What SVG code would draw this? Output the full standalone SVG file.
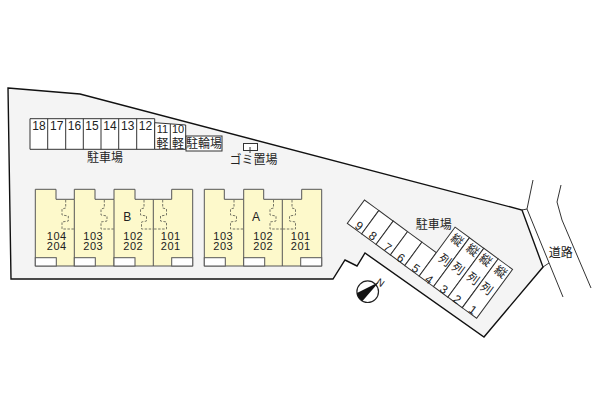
<svg xmlns="http://www.w3.org/2000/svg" width="600" height="400" viewBox="0 0 600 400">
<style>
text{font-family:"Liberation Sans","Noto Sans CJK JP",sans-serif;font-size:12px;fill:#222;text-anchor:middle}
.u{font-size:11px;letter-spacing:.5px}
.p{fill:#fff;stroke:#333;stroke-width:1}
.b{fill:#fdf9cb;stroke:#555;stroke-width:1}
.w{fill:#fff;stroke:#555;stroke-width:1}
.d{fill:none;stroke:#776;stroke-width:1;stroke-dasharray:2.5 1.5}
.r{fill:none;stroke:#333;stroke-width:1}
</style>
<rect width="600" height="400" fill="#fff"/>
<g id="road">
<path class="r" d="M533 180L527 209L563 297M561 185L557 202L562 220L591 288M522 210L527 209M543 267L549 263"/>
</g>
<path id="lot" d="M8 88L80 94L522 210L543 267L484 337L365 253L357 266L345 260L333 279L11 279Z" fill="#f4f4f4" stroke="#111" stroke-width="1.4"/>
<g id="parking-north">
<path class="p" d="M30 118.700H154.700V149.300H30Z"/>
<path class="p" d="M154.700 122.700L185.700 125V149.300H154.700Z"/>
<path class="r" d="M47.700 118.700V149.300M65.700 118.700V149.300M83.300 118.700V149.300M101 118.700V149.300M118.700 118.700V149.300M136.700 118.700V149.300M170.300 124V149.300"/>
<text x="39" y="130">18</text><text x="56.700" y="130">17</text><text x="74.500" y="130">16</text><text x="92" y="130">15</text><text x="110" y="130">14</text><text x="127.700" y="130">13</text><text x="145.500" y="130">12</text>
<text x="162.500" y="133" style="font-size:11px">11</text><text x="178" y="133" style="font-size:11px">10</text><text x="162.500" y="147.500">軽</text><text x="178" y="147.500">軽</text>
<text x="105" y="162">駐車場</text>
</g>
<g id="bike"><rect class="p" x="186" y="136" width="36" height="15"/><text x="204" y="148">駐輪場</text></g>
<g id="garbage"><rect class="p" x="243.500" y="143.500" width="14" height="7"/><path class="r" d="M250 147V153"/><text x="253.500" y="164">ゴミ置場</text></g>
<g id="building-b">
<path class="b" d="M35.300 189.300H56V199.300H74.300V189.300H95V199.300H114V189.300H135V199.300H153.300H171.700V189.300H192.700V266H35.300Z"/>
<path class="b" d="M74.300 199.300V266M114 199.300V266M153.300 199.300V266"/>
<rect class="w" x="35.300" y="257.700" width="21" height="8.300"/><rect class="w" x="74.300" y="257.700" width="21" height="8.300"/><rect class="w" x="114" y="257.700" width="21" height="8.300"/><rect class="w" x="171.700" y="257.700" width="21" height="8.300"/>
<path class="d" d="M65.700 200V208L62 209V215L68.300 216V221L62 222V229H74"/>
<path class="d" d="M104.300 200V208L101 209V215L107 216V221L101 222V229H114"/>
<path class="d" d="M144 200V208L140.500 209V215L146.500 216V221L141.500 222V229H153.300"/>
<path class="d" d="M162.700 200V208L166.500 209V215L160.500 216V221L166.500 222V229H153.300"/>
<text x="127.300" y="221">B</text>
<text class="u" x="56.700" y="239.500">104</text><text class="u" x="56.700" y="250">204</text><text class="u" x="93.300" y="239.500">103</text><text class="u" x="93.300" y="250">203</text><text class="u" x="133.300" y="239.500">102</text><text class="u" x="133.300" y="250">202</text><text class="u" x="170.700" y="239.500">101</text><text class="u" x="170.700" y="250">201</text>
</g>
<g id="building-a">
<path class="b" d="M204.300 189.300H224.300V199.300H243.700V189.300H263.700V199.300H282.300H301.700V189.300H321.700V266H204.300Z"/>
<path class="b" d="M243.700 199.300V266M282.300 199.300V266"/>
<rect class="w" x="204.300" y="257.700" width="21" height="8.300"/><rect class="w" x="243.700" y="257.700" width="21" height="8.300"/><rect class="w" x="300.700" y="257.700" width="21" height="8.300"/>
<path class="d" d="M234 200V208L230.500 209V215L236.500 216V221L230.500 222V229H243.700"/>
<path class="d" d="M273.500 200V208L270 209V215L276 216V221L270 222V229H282.300"/>
<path class="d" d="M292 200V208L295.500 209V215L289.500 216V221L295.500 222V229H282.300"/>
<text x="256" y="221">A</text>
<text class="u" x="223.300" y="239.500">103</text><text class="u" x="223.300" y="250">203</text><text class="u" x="263.300" y="239.500">102</text><text class="u" x="263.300" y="250">202</text><text class="u" x="300.700" y="239.500">101</text><text class="u" x="300.700" y="250">201</text>
</g>
<g id="parking-east">
<g transform="translate(347.300 223.300) rotate(36.300)">
<rect class="p" x="0" y="-29" width="17.830" height="29"/><rect class="p" x="17.830" y="-29" width="17.830" height="29"/><rect class="p" x="35.660" y="-29" width="17.830" height="29"/><rect class="p" x="53.490" y="-29" width="17.830" height="29"/><rect class="p" x="71.320" y="-29" width="17.830" height="29"/>
<rect class="p" x="89.150" y="-60.700" width="17.830" height="60.700"/><rect class="p" x="106.980" y="-60.700" width="17.830" height="60.700"/><rect class="p" x="124.810" y="-60.700" width="17.830" height="60.700"/><rect class="p" x="142.640" y="-60.700" width="17.830" height="60.700"/>
</g>
<text transform="rotate(36 359.300 225.700)" x="359.300" y="230">9</text>
<text transform="rotate(36 372.700 236)" x="372.700" y="240">8</text>
<text transform="rotate(36 387.700 247.300)" x="387.700" y="251.500">7</text>
<text transform="rotate(36 401 257.700)" x="401" y="262">6</text>
<text transform="rotate(36 416 268.300)" x="416" y="272.500">5</text>
<text transform="rotate(36 429.300 279.300)" x="429.300" y="283.500">4</text>
<text transform="rotate(36 444 289.300)" x="444" y="293.500">3</text>
<text transform="rotate(36 457.300 299.300)" x="457.300" y="303.500">2</text>
<text transform="rotate(36 472.700 310)" x="472.700" y="314">1</text>
<text transform="rotate(36 457.300 240)" x="457.300" y="244.500">縦</text>
<text transform="rotate(36 472.700 250)" x="472.700" y="254.500">縦</text>
<text transform="rotate(36 485.700 260)" x="485.700" y="264.500">縦</text>
<text transform="rotate(36 500.700 271.700)" x="500.700" y="276">縦</text>
<text transform="rotate(36 445 260)" x="445" y="264.500">列</text>
<text transform="rotate(36 458.300 268.300)" x="458.300" y="272.800">列</text>
<text transform="rotate(36 473.300 278.300)" x="473.300" y="282.800">列</text>
<text transform="rotate(36 486.700 288.300)" x="486.700" y="292.800">列</text>
<text x="433.700" y="228.500">駐車場</text>
</g>
<text x="560.700" y="257">道路</text>
<g id="compass">
<circle cx="367.700" cy="291.700" r="10.800" fill="#fff" stroke="#222" stroke-width="1.200"/>
<path d="M357 293A10.800 10.800 0 0 0 362.500 301L379 282Z" fill="#111"/>
<text transform="rotate(36 380.500 282.500)" x="380.500" y="286" style="font-size:10px">N</text>
</g>
</svg>
